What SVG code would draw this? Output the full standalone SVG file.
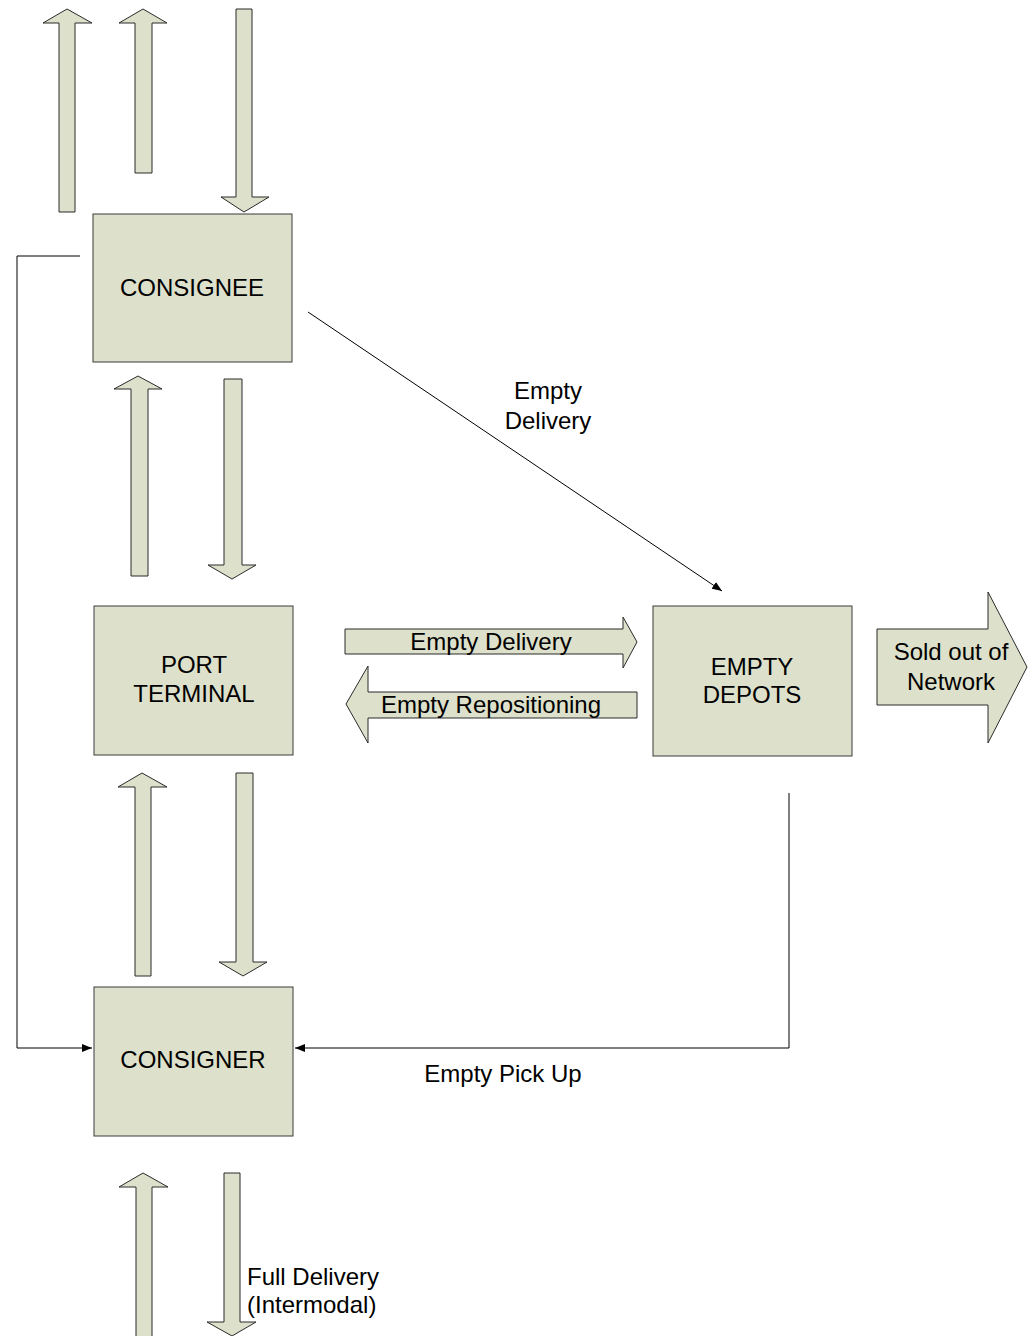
<svg xmlns="http://www.w3.org/2000/svg" width="1032" height="1336" viewBox="0 0 1032 1336">
<style>
.box{fill:#DDE0CB;stroke:#3a3a3a;stroke-width:1}
.blk{fill:#DDE0CB;stroke:#2a2a2a;stroke-width:1;stroke-linejoin:miter}
.t{font-family:"Liberation Sans",Arial,sans-serif;font-size:24px;fill:#000;text-anchor:middle}
.tl{font-family:"Liberation Sans",Arial,sans-serif;font-size:24px;fill:#000}
.con{fill:none;stroke:#000;stroke-width:1}
</style>
<defs>
<marker id="ah" markerWidth="10" markerHeight="8" refX="10" refY="4" orient="auto" markerUnits="userSpaceOnUse">
<path d="M0,0 L10,4 L0,8 Z" fill="#000"/>
</marker>
</defs>
<rect width="1032" height="1336" fill="#fff"/>
<g id="flow-arrows">
<polygon class="blk" points="67,9 92,23 75,23 75,212 59,212 59,23 43,23"/>
<polygon class="blk" points="143,9 167,23 152,23 152,173 135,173 135,23 119,23"/>
<polygon class="blk" points="236,9 252,9 252,197 269,197 244,212 221,197 236,197"/>
<polygon class="blk" points="138,376 162,389 148,389 148,576 131,576 131,389 114,389"/>
<polygon class="blk" points="224,379 242,379 242,565 256,565 232,579 208,565 224,565"/>
<polygon class="blk" points="142,773 167,787 151,787 151,976 135,976 135,787 118,787"/>
<polygon class="blk" points="236,773 253,773 253,962 267,962 243,976 219,962 236,962"/>
<polygon class="blk" points="143,1173 168,1187 152,1187 152,1340 136,1340 136,1187 119,1187"/>
<polygon class="blk" points="224,1173 240,1173 240,1322 256,1322 232,1336 207,1322 224,1322"/>
</g>
<g id="empty-delivery-arrow">
<polygon class="blk" points="345,629 623,629 623,617 637,642 623,668 623,654 345,654"/>
<text class="t" x="491" y="650">Empty Delivery</text>
</g>
<g id="empty-repositioning-arrow">
<polygon class="blk" points="637,692 637,718 368,718 368,743 346,704 368,666 368,692"/>
<text class="t" x="491" y="713">Empty Repositioning</text>
</g>
<g id="sold-out-arrow">
<polygon class="blk" points="877,629 988,629 988,592 1027,667 988,743 988,705 877,705"/>
<text class="t" x="951" y="660">Sold out of</text>
<text class="t" x="951" y="690">Network</text>
</g>
<g id="consignee">
<rect class="box" x="93" y="214" width="199" height="148"/>
<text class="t" x="192" y="296">CONSIGNEE</text>
</g>
<g id="port-terminal">
<rect class="box" x="94" y="606" width="199" height="149"/>
<text class="t" x="194" y="673">PORT</text>
<text class="t" x="194" y="702">TERMINAL</text>
</g>
<g id="empty-depots">
<rect class="box" x="653" y="606" width="199" height="150"/>
<text class="t" x="752" y="675">EMPTY</text>
<text class="t" x="752" y="703">DEPOTS</text>
</g>
<g id="consigner">
<rect class="box" x="94" y="987" width="199" height="149"/>
<text class="t" x="193" y="1068">CONSIGNER</text>
</g>
<g id="connectors">
<polyline class="con" points="80,256 17,256 17,1048 92,1048" marker-end="url(#ah)"/>
<line class="con" x1="308" y1="312" x2="722" y2="591" marker-end="url(#ah)"/>
<polyline class="con" points="789,793 789,1048 295,1048" marker-end="url(#ah)"/>
</g>
<g id="labels">
<text class="t" x="548" y="399">Empty</text>
<text class="t" x="548" y="429">Delivery</text>
<text class="t" x="503" y="1082">Empty Pick Up</text>
<text class="tl" x="247" y="1285">Full Delivery</text>
<text class="tl" x="247" y="1313">(Intermodal)</text>
</g>
</svg>
